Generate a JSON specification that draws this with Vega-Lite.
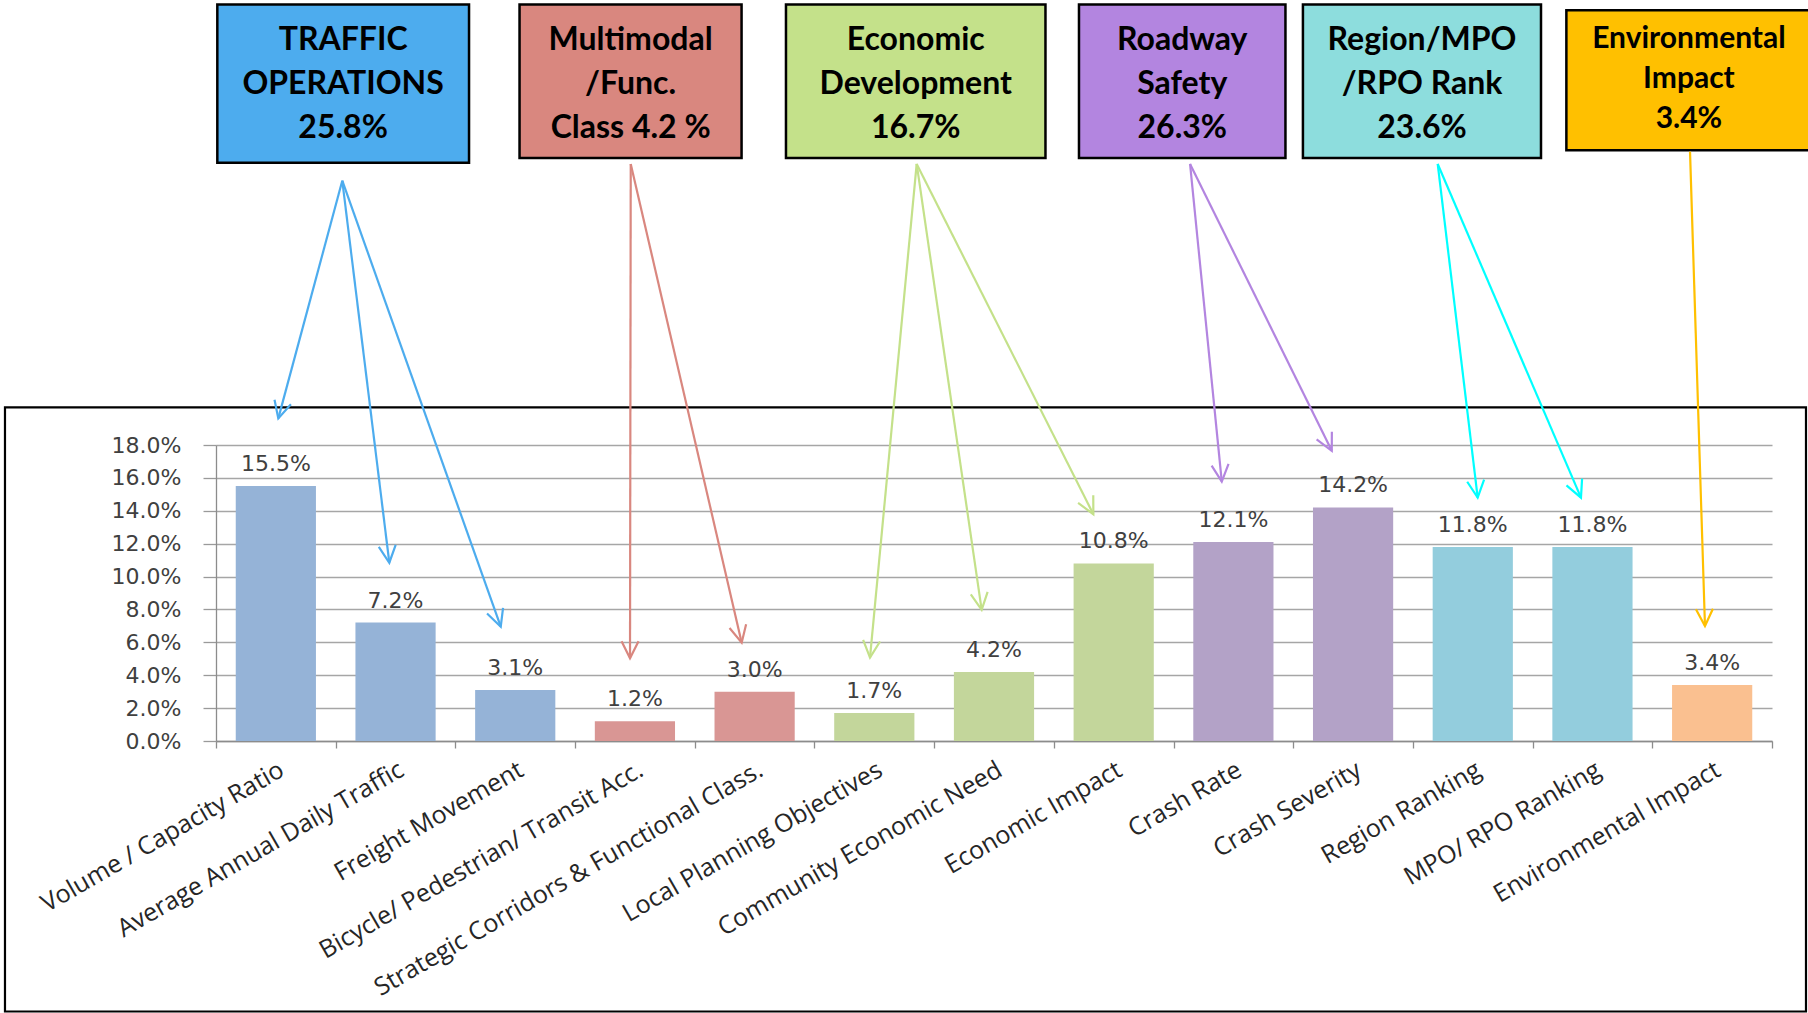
{
  "$schema": "https://vega.github.io/schema/vega-lite/v6.json",
  "autosize": {"type": "none"},
  "width": 1556,
  "height": 296,
  "padding": {"left": 216, "top": 445, "right": 36, "bottom": 272},
  "background": "white",
  "config": {"view": {"stroke": null}},
  "datasets": {
    "bars": [
      {"criterion": "Volume / Capacity Ratio", "value": 0.155, "group": "Traffic"},
      {"criterion": "Average Annual Daily Traffic", "value": 0.072, "group": "Traffic"},
      {"criterion": "Freight Movement", "value": 0.031, "group": "Traffic"},
      {"criterion": "Bicycle/ Pedestrian/ Transit Acc.", "value": 0.012, "group": "Multimodal"},
      {"criterion": "Strategic Corridors & Functional Class.", "value": 0.030, "group": "Multimodal"},
      {"criterion": "Local Planning Objectives", "value": 0.017, "group": "Economic"},
      {"criterion": "Community Economic Need", "value": 0.042, "group": "Economic"},
      {"criterion": "Economic Impact", "value": 0.108, "group": "Economic"},
      {"criterion": "Crash Rate", "value": 0.121, "group": "Safety"},
      {"criterion": "Crash Severity", "value": 0.142, "group": "Safety"},
      {"criterion": "Region Ranking", "value": 0.118, "group": "Region"},
      {"criterion": "MPO/ RPO Ranking", "value": 0.118, "group": "Region"},
      {"criterion": "Environmental Impact", "value": 0.034, "group": "Environmental"}
    ],
    "boxes": [
      {"group": "Traffic", "label": "TRAFFIC\nOPERATIONS\n25.8%", "x1": 0.011, "x2": 2.114, "y1": 0.4478, "y2": 0.3517, "xc": 1.062, "yc": 0.4260},
      {"group": "Multimodal", "label": "Multimodal\n/Func.\nClass 4.2 %", "x1": 2.536, "x2": 4.391, "y1": 0.4478, "y2": 0.3546, "xc": 3.464, "yc": 0.4260},
      {"group": "Economic", "label": "Economic\nDevelopment\n16.7%", "x1": 4.762, "x2": 6.930, "y1": 0.4478, "y2": 0.3546, "xc": 5.846, "yc": 0.4260},
      {"group": "Safety", "label": "Roadway\nSafety\n26.3%", "x1": 7.210, "x2": 8.935, "y1": 0.4478, "y2": 0.3546, "xc": 8.073, "yc": 0.4260},
      {"group": "Region", "label": "Region/MPO\n/RPO Rank\n23.6%", "x1": 9.081, "x2": 11.070, "y1": 0.4478, "y2": 0.3546, "xc": 10.076, "yc": 0.4260},
      {"group": "Environmental", "label": "Environmental\nImpact\n3.4%", "x1": 11.282, "x2": 13.4, "y1": 0.4444, "y2": 0.3592, "xc": 12.306, "yc": 0.4269}
    ],
    "arrows": [
      {"group": "Traffic", "x0": 1.055, "y0": 0.3407, "x": 0.5205, "y": 0.1962, "dir": 15.1},
      {"group": "Traffic", "x0": 1.055, "y0": 0.3407, "x": 1.448, "y": 0.1084, "dir": -7.0},
      {"group": "Traffic", "x0": 1.055, "y0": 0.3407, "x": 2.379, "y": 0.0695, "dir": -19.6},
      {"group": "Multimodal", "x0": 3.465, "y0": 0.3509, "x": 3.459, "y": 0.0503, "dir": 0.1},
      {"group": "Multimodal", "x0": 3.465, "y0": 0.3509, "x": 4.392, "y": 0.0598, "dir": -13.1},
      {"group": "Economic", "x0": 5.854, "y0": 0.3509, "x": 5.464, "y": 0.0507, "dir": 5.4},
      {"group": "Economic", "x0": 5.854, "y0": 0.3509, "x": 6.397, "y": 0.0797, "dir": -8.3},
      {"group": "Economic", "x0": 5.854, "y0": 0.3509, "x": 7.330, "y": 0.1379, "dir": -26.8},
      {"group": "Safety", "x0": 8.138, "y0": 0.3509, "x": 8.403, "y": 0.1577, "dir": -5.7},
      {"group": "Safety", "x0": 8.138, "y0": 0.3509, "x": 9.322, "y": 0.1765, "dir": -26.3},
      {"group": "Region", "x0": 10.207, "y0": 0.3509, "x": 10.541, "y": 0.1480, "dir": -6.8},
      {"group": "Region", "x0": 10.207, "y0": 0.3509, "x": 11.404, "y": 0.1480, "dir": -23.2},
      {"group": "Environmental", "x0": 12.315, "y0": 0.3584, "x": 12.440, "y": 0.0699, "dir": -1.8}
    ],
    "frame": [
      {"x1": -1.763, "x2": 13.284, "y1": 0.2029, "y2": -0.1645}
    ]
  },
  "resolve": {"scale": {"x": "independent", "y": "independent", "color": "independent"}, "axis": {"x": "independent", "y": "independent"}},
  "layer": [
    {
      "data": {"name": "bars"},
      "encoding": {
        "x": {
          "field": "criterion", "type": "nominal", "sort": null,
          "scale": {"paddingInner": 0.33, "paddingOuter": 0.165},
          "axis": {
            "orient": "bottom", "title": null, "ticks": false, "grid": false,
            "domain": true, "domainColor": "#8c8c8c", "domainWidth": 1.3,
            "labelAngle": -30, "labelAlign": "right", "labelBaseline": "top",
            "labelPadding": 16, "labelFont": "Open Sans", "labelFontSize": 25,
            "labelColor": "#262626", "labelLimit": 700, "labelOverlap": false, "labelBound": false
          }
        },
        "y": {
          "field": "value", "type": "quantitative",
          "scale": {"domain": [0, 0.18], "nice": false, "zero": true},
          "axis": {
            "title": null, "orient": "left", "values": [0, 0.02, 0.04, 0.06, 0.08, 0.1, 0.12, 0.14, 0.16, 0.18],
            "format": ".1%", "labelFont": "DejaVu Sans", "labelFontSize": 22, "labelColor": "#404040",
            "labelPadding": 22, "labelOverlap": false, "ticks": true, "tickSize": 13, "tickColor": "#9a9a9a", "tickWidth": 1.3,
            "domain": true, "domainColor": "#8c8c8c", "domainWidth": 1.3,
            "grid": true, "gridColor": "#a6a6a6", "gridWidth": 1.3
          }
        }
      },
      "layer": [
        {
          "mark": {"type": "bar"},
          "encoding": {
            "color": {
              "field": "group", "type": "nominal", "legend": null,
              "scale": {
                "domain": ["Traffic", "Multimodal", "Economic", "Safety", "Region", "Environmental"],
                "range": ["#95B3D7", "#D99694", "#C3D69B", "#B3A2C7", "#93CDDD", "#FAC090"]
              }
            }
          }
        },
        {
          "mark": {"type": "text", "baseline": "alphabetic", "align": "center", "dy": -15, "font": "DejaVu Sans", "fontSize": 22, "fill": "#404040"},
          "encoding": {"text": {"field": "value", "type": "quantitative", "format": ".1%"}}
        }
      ]
    },
    {
      "layer": [
        {
          "data": {"name": "frame"},
          "mark": {"type": "rect", "filled": false, "stroke": "#000000", "strokeWidth": 2.2},
          "encoding": {
            "x": {
              "field": "x1", "type": "quantitative",
              "scale": {"domain": [0, 13], "nice": false, "zero": false},
              "axis": {
                "orient": "bottom", "title": null, "values": [0, 1, 2, 3, 4, 5, 6, 7, 8, 9, 10, 11, 12, 13],
                "labels": false, "domain": false, "grid": false, "ticks": true,
                "tickSize": 7, "tickColor": "#8c8c8c", "tickWidth": 1.3
              }
            },
            "x2": {"field": "x2"},
            "y": {"field": "y1", "type": "quantitative", "scale": {"domain": [0, 0.18], "nice": false, "zero": true}, "axis": null},
            "y2": {"field": "y2"}
          }
        },
        {
          "data": {"name": "boxes"},
          "mark": {"type": "rect", "stroke": "#000000", "strokeWidth": 2.5},
          "encoding": {
            "x": {"field": "x1", "type": "quantitative", "scale": {"domain": [0, 13], "nice": false, "zero": false}},
            "x2": {"field": "x2"},
            "y": {"field": "y1", "type": "quantitative", "scale": {"domain": [0, 0.18], "nice": false, "zero": true}, "axis": null},
            "y2": {"field": "y2"},
            "fill": {
              "field": "group", "type": "nominal", "legend": null,
              "scale": {
                "domain": ["Traffic", "Multimodal", "Economic", "Safety", "Region", "Environmental"],
                "range": ["#4DACEE", "#D9877F", "#C4E18A", "#B385E0", "#8DDDDD", "#FFC000"]
              }
            }
          }
        },
        {
          "data": {"name": "boxes"},
          "transform": [{"filter": "datum.group !== 'Environmental'"}],
          "mark": {"type": "text", "font": "Lato", "fontWeight": "bold", "fontSize": 32, "lineHeight": 44, "lineBreak": "\n", "align": "center", "baseline": "middle", "fill": "#000000"},
          "encoding": {
            "x": {"field": "xc", "type": "quantitative", "scale": {"domain": [0, 13], "nice": false, "zero": false}},
            "y": {"field": "yc", "type": "quantitative", "scale": {"domain": [0, 0.18], "nice": false, "zero": true}, "axis": null},
            "text": {"field": "label", "type": "nominal"}
          }
        },
        {
          "data": {"name": "boxes"},
          "transform": [{"filter": "datum.group === 'Environmental'"}],
          "mark": {"type": "text", "font": "Lato", "fontWeight": "bold", "fontSize": 30, "lineHeight": 40, "lineBreak": "\n", "align": "center", "baseline": "middle", "fill": "#000000"},
          "encoding": {
            "x": {"field": "xc", "type": "quantitative", "scale": {"domain": [0, 13], "nice": false, "zero": false}},
            "y": {"field": "yc", "type": "quantitative", "scale": {"domain": [0, 0.18], "nice": false, "zero": true}, "axis": null},
            "text": {"field": "label", "type": "nominal"}
          }
        },
        {
          "data": {"name": "arrows"},
          "mark": {"type": "rule", "strokeWidth": 2.2},
          "encoding": {
            "x": {"field": "x0", "type": "quantitative", "scale": {"domain": [0, 13], "nice": false, "zero": false}},
            "y": {"field": "y0", "type": "quantitative", "scale": {"domain": [0, 0.18], "nice": false, "zero": true}, "axis": null},
            "x2": {"field": "x"},
            "y2": {"field": "y"},
            "color": {
              "field": "group", "type": "nominal", "legend": null,
              "scale": {
                "domain": ["Traffic", "Multimodal", "Economic", "Safety", "Region", "Environmental"],
                "range": ["#4DACEE", "#D9877F", "#C4E18A", "#B385E0", "#00FFFF", "#FFC000"]
              }
            }
          }
        },
        {
          "data": {"name": "arrows"},
          "mark": {"type": "point", "shape": "M -0.5 -1 L 0 0 L 0.5 -1", "filled": false, "size": 1156, "strokeWidth": 2.2, "opacity": 1},
          "encoding": {
            "x": {"field": "x", "type": "quantitative", "scale": {"domain": [0, 13], "nice": false, "zero": false}},
            "y": {"field": "y", "type": "quantitative", "scale": {"domain": [0, 0.18], "nice": false, "zero": true}, "axis": null},
            "angle": {"field": "dir", "type": "quantitative", "scale": null},
            "color": {
              "field": "group", "type": "nominal", "legend": null,
              "scale": {
                "domain": ["Traffic", "Multimodal", "Economic", "Safety", "Region", "Environmental"],
                "range": ["#4DACEE", "#D9877F", "#C4E18A", "#B385E0", "#00FFFF", "#FFC000"]
              }
            }
          }
        }
      ]
    }
  ]
}
